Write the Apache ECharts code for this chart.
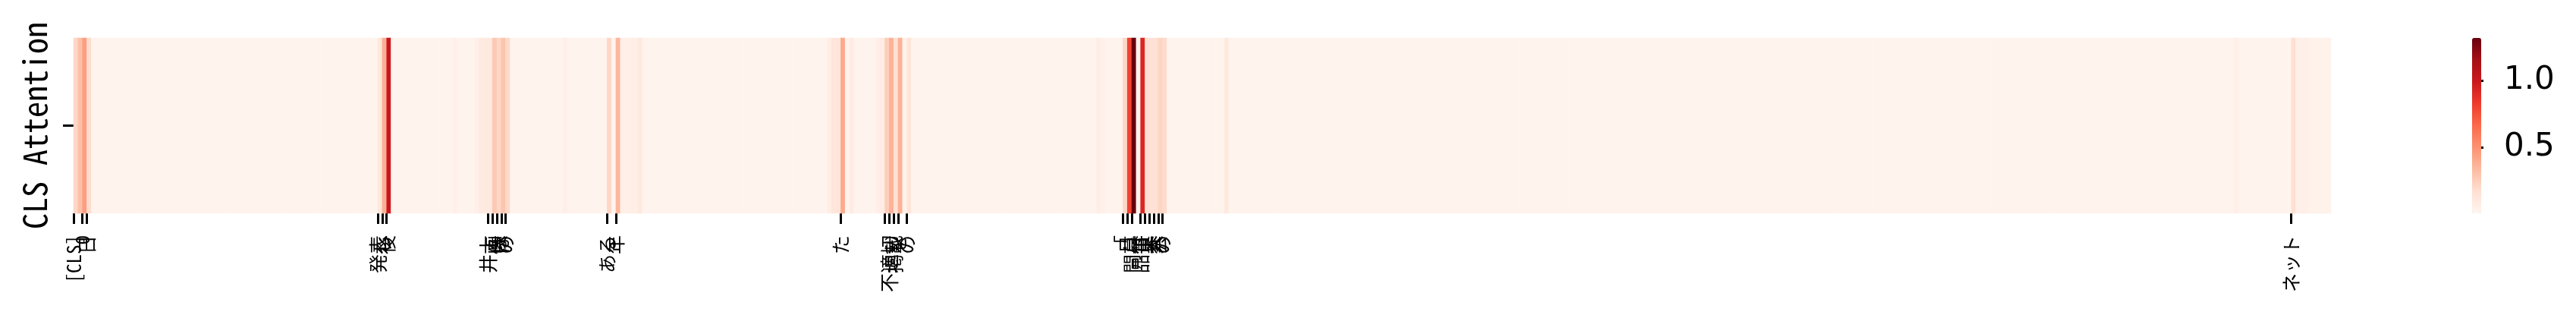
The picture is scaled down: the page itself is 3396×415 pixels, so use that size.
<!DOCTYPE html>
<html><head><meta charset="utf-8">
<script src="https://cdn.jsdelivr.net/npm/echarts@6/dist/echarts.min.js"></script>
<style>html,body{margin:0;padding:0;background:#fff}#c{width:3396px;height:415px}</style>
</head><body><div id="c"></div>
<script>
// CLS attention per token (512 tokens)
const attention = [
0.21,0.31,0.45,0.19, 0.02,0.02,0.02,0.02, 0.02,0.02,0.02,0.02, 0.02,0.02,0.02,0.02, 0.02,0.02,0.02,0.02, 0.02,0.02,0.02,0.02, 0.02,0.02,0.02,0.02, 0.02,0.02,0.02,0.02,
0.02,0.02,0.02,0.02, 0.02,0.02,0.02,0.02, 0.02,0.02,0.02,0.02, 0.02,0.02,0.02,0.02, 0.02,0.02,0.02,0.02, 0.02,0.02,0.02,0.02, 0.02,0.02,0.02,0.02, 0.02,0.02,0.02,0.02,
0.02,0.02,0.02,0.02, 0.02,0.12,0.38,1.00, 0.02,0.02,0.02,0.02, 0.02,0.02,0.02,0.02, 0.02,0.02,0.02,0.02, 0.02,0.02,0.05,0.02, 0.02,0.02,0.02,0.05, 0.09,0.10,0.10,0.27,
0.21,0.29,0.20,0.02, 0.02,0.02,0.02,0.02, 0.02,0.02,0.02,0.02, 0.02,0.02,0.02,0.05, 0.02,0.02,0.02,0.02, 0.02,0.02,0.02,0.02, 0.02,0.21,0.02,0.35, 0.05,0.05,0.06,0.06,
0.10,0.02,0.02,0.02, 0.02,0.02,0.02,0.02, 0.02,0.02,0.02,0.02, 0.02,0.02,0.02,0.02, 0.02,0.02,0.02,0.02, 0.02,0.02,0.02,0.02, 0.02,0.02,0.02,0.02, 0.02,0.02,0.02,0.02,
0.02,0.02,0.02,0.02, 0.02,0.02,0.02,0.02, 0.02,0.02,0.02,0.07, 0.12,0.13,0.40,0.02, 0.08,0.02,0.02,0.02, 0.02,0.02,0.05,0.08, 0.25,0.37,0.16,0.37, 0.03,0.13,0.02,0.02,
0.02,0.02,0.02,0.02, 0.02,0.02,0.02,0.02, 0.02,0.02,0.02,0.02, 0.02,0.02,0.02,0.02, 0.02,0.02,0.02,0.02, 0.02,0.02,0.02,0.02, 0.02,0.02,0.02,0.02, 0.02,0.02,0.02,0.02,
0.02,0.02,0.02,0.02, 0.02,0.02,0.02,0.02, 0.06,0.04,0.02,0.02, 0.02,0.02,0.21,0.80, 1.32,0.02,0.92,0.16, 0.16,0.16,0.22,0.19, 0.02,0.02,0.02,0.02, 0.02,0.02,0.02,0.02,
0.02,0.02,0.02,0.02, 0.02,0.10,0.02,0.02, 0.02,0.02,0.02,0.02, 0.02,0.02,0.02,0.02, 0.02,0.02,0.02,0.02, 0.02,0.02,0.02,0.02, 0.02,0.02,0.02,0.02, 0.02,0.02,0.02,0.02,
0.02,0.02,0.02,0.02, 0.02,0.02,0.02,0.02, 0.02,0.02,0.02,0.02, 0.02,0.02,0.02,0.02, 0.02,0.02,0.02,0.02, 0.02,0.02,0.02,0.02, 0.02,0.02,0.02,0.02, 0.02,0.02,0.02,0.02,
0.02,0.02,0.02,0.02, 0.02,0.02,0.02,0.02, 0.02,0.02,0.02,0.02, 0.02,0.02,0.02,0.02, 0.02,0.02,0.02,0.02, 0.02,0.02,0.02,0.02, 0.02,0.02,0.02,0.02, 0.02,0.02,0.02,0.02,
0.02,0.02,0.02,0.02, 0.02,0.02,0.02,0.02, 0.02,0.02,0.02,0.02, 0.02,0.02,0.02,0.02, 0.02,0.02,0.02,0.02, 0.02,0.02,0.02,0.02, 0.02,0.02,0.02,0.02, 0.02,0.02,0.02,0.02,
0.02,0.02,0.02,0.02, 0.02,0.02,0.02,0.02, 0.02,0.02,0.02,0.02, 0.02,0.02,0.02,0.02, 0.02,0.02,0.02,0.02, 0.02,0.02,0.02,0.02, 0.02,0.02,0.02,0.02, 0.02,0.02,0.02,0.02,
0.02,0.02,0.02,0.02, 0.02,0.02,0.02,0.02, 0.02,0.02,0.02,0.02, 0.02,0.02,0.02,0.02, 0.02,0.02,0.02,0.02, 0.02,0.02,0.02,0.02, 0.02,0.02,0.02,0.02, 0.02,0.02,0.02,0.02,
0.02,0.02,0.02,0.02, 0.02,0.02,0.02,0.02, 0.02,0.02,0.02,0.02, 0.02,0.02,0.02,0.02, 0.02,0.02,0.02,0.02, 0.02,0.02,0.02,0.02, 0.02,0.02,0.02,0.02, 0.02,0.02,0.02,0.02,
0.02,0.02,0.02,0.02, 0.02,0.02,0.02,0.02, 0.02,0.02,0.05,0.02, 0.02,0.02,0.02,0.02, 0.02,0.02,0.02,0.02, 0.02,0.02,0.02,0.17, 0.05,0.05,0.05,0.03, 0.03,0.03,0.03,0.03
];
// token positions that carry a tick, and their labels
const tickIndex  = [0, 1, 2, 3, 69, 70, 71, 94, 95, 96, 97, 98, 121, 123, 174, 184, 185, 186, 187, 189, 238, 239, 240, 242, 243, 244, 245, 246, 247, 503];
const tickLabels = ['[CLS]', '2', '0', '日', '発表', 'し', '後', '井上', '画', '像', 'は', 'の', 'ある', '年', 'た', '、', '不適切', '掲載', 'を', 'の', '「', '月', '開幕', '品質', '世', '界', '大', '会', 'の', 'ネット'];
const rowLabels = [''];
const colorbarTicks = [0.5, 1.0];
const colorMin = 0.005, colorMax = 1.32;
const reds = ['#fff5f0','#fee0d2','#fcbba1','#fc9272','#fb6a4a','#ef3b2c','#cb181d','#a50f15','#67000d'];

const tokenCategories = attention.map((_, i) => String(i));
const cjk = '"Noto Sans Mono CJK JP", "Noto Sans CJK JP", monospace';

const chart = echarts.init(document.getElementById('c'), null, {renderer: 'canvas'});
chart.setOption({
  animation: false,
  backgroundColor: '#ffffff',
  grid: [
    {left: 97, top: 50, width: 2976, height: 231, outerBoundsMode: 'none'},
    {left: 3259, top: 50, width: 12, height: 231, outerBoundsMode: 'none'}
  ],
  xAxis: [
    {type: 'category', gridIndex: 0, data: tokenCategories, axisLine: {show: false}, axisTick: {show: false}, axisLabel: {show: false}, splitLine: {show: false}},
    {type: 'value', gridIndex: 0, min: 0, max: attention.length, position: 'bottom',
     axisLine: {show: false}, splitLine: {show: false},
     axisTick: {show: true, customValues: tickIndex, length: 14, lineStyle: {color: '#000', width: 3}},
     axisLabel: {show: true, customValues: tickIndex, rotate: 90, margin: 29, fontSize: 25, color: '#000', fontFamily: cjk,
       showMinLabel: true, showMaxLabel: true, hideOverlap: false,
       formatter: v => { const k = tickIndex.indexOf(Math.round(v)); return k >= 0 ? tickLabels[k] : ''; }}},
    {type: 'value', gridIndex: 1, show: false, min: 0, max: 1}
  ],
  yAxis: [
    {type: 'category', gridIndex: 0, data: rowLabels, axisLine: {show: false}, splitLine: {show: false},
     axisTick: {show: true, alignWithLabel: true, length: 14, lineStyle: {color: '#000', width: 3}},
     axisLabel: {show: false},
     name: 'CLS Attention', nameLocation: 'middle', nameRotate: 90, nameGap: 30,
     nameTextStyle: {fontSize: 42, color: '#000', fontFamily: cjk}},
    {type: 'value', gridIndex: 1, position: 'right', min: colorMin, max: colorMax,
     axisLine: {show: false}, splitLine: {show: false},
     axisTick: {show: true, customValues: colorbarTicks, length: 15, lineStyle: {color: '#000', width: 3}},
     axisLabel: {show: true, customValues: colorbarTicks, margin: 30, fontSize: 42, color: '#000', fontFamily: '"DejaVu Sans"',
       formatter: v => v.toFixed(1)}}
  ],
  visualMap: {
    type: 'continuous', seriesIndex: 0, min: colorMin, max: colorMax, calculable: false,
    orient: 'vertical', left: 3259, top: 50, itemWidth: 12, itemHeight: 231, padding: 0,
    inRange: {color: reds}, text: null, hoverLink: false
  },
  series: [{
    type: 'heatmap', xAxisIndex: 0, yAxisIndex: 0,
    data: attention.map((v, i) => [i, 0, v]),
    itemStyle: {borderWidth: 0},
    emphasis: {disabled: true}, silent: true, progressive: 0
  }]
});
</script></body></html>
